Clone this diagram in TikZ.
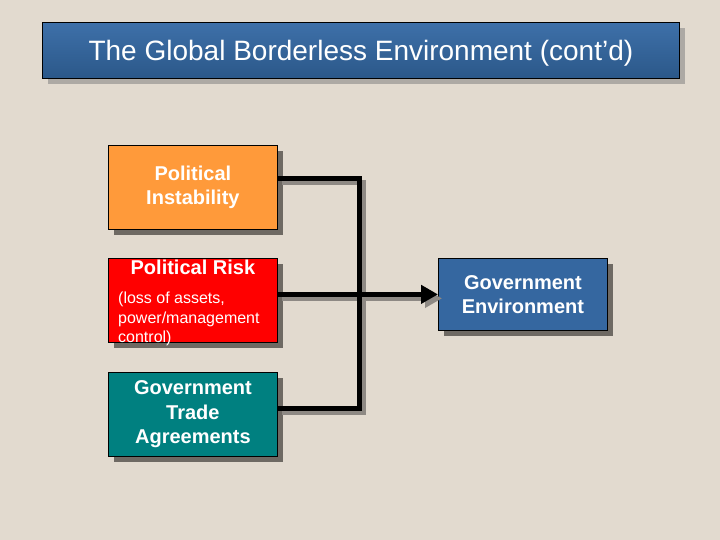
\documentclass[tikz,border=0pt]{standalone}
\usepackage{fontspec}
\setmainfont{Liberation Sans}
\usetikzlibrary{arrows.meta,shadows}

\definecolor{paper}{HTML}{E2DACF}
\definecolor{titletop}{HTML}{3E70A9}
\definecolor{titlebot}{HTML}{2B5889}
\definecolor{titleshade}{HTML}{ADA9A4}
\definecolor{boxshade}{HTML}{6E6963}
\definecolor{wireshade}{HTML}{8E8984}
\definecolor{instorange}{HTML}{FF9A3A}
\definecolor{riskred}{HTML}{FF0000}
\definecolor{tradeteal}{HTML}{008080}
\definecolor{govblue}{HTML}{3567A0}

\begin{document}
\begin{tikzpicture}[x=1pt,y=-1pt,
    box/.style={draw=black, line width=0.8pt, anchor=north west,
      minimum width=169pt, minimum height=84pt, inner sep=0pt,
      text=white, align=center,
      font=\fontsize{20}{24.5}\selectfont\bfseries,
      drop shadow={shadow xshift=6pt, shadow yshift=-6pt, fill=boxshade, opacity=1}},
    titlebox/.style={draw=black, line width=0.8pt, anchor=north west,
      minimum width=637pt, minimum height=56pt, inner sep=0pt, text depth=0pt,
      top color=titletop, bottom color=titlebot, text=white,
      font=\fontsize{28}{34}\selectfont,
      drop shadow={shadow xshift=6pt, shadow yshift=-6pt, fill=titleshade, opacity=1}},
    headtext/.style={anchor=base, inner sep=0pt, text=white,
      font=\fontsize{20}{24.5}\selectfont\bfseries},
    notetext/.style={anchor=north west, inner sep=0pt, text=white, align=left,
      font=\fontsize{16}{19.5}\selectfont},
    wire/.style={line width=5pt, draw=black},
    wireshadow/.style={line width=5pt, draw=wireshade,
      transform canvas={xshift=4pt, yshift=-4pt}}]

  % background
  \fill[paper] (0,0) rectangle (720,540);

  % title
  \node[titlebox] (title) at (42,22) {The Global Borderless Environment (cont’d)};

  % factors
  \node[box, fill=instorange] (pi) at (108,145) {Political\\Instability};
  \node[box, fill=riskred] (pr) at (108,258) {};
  \node[headtext] (prhead) at ([yshift=-16pt]pr.north) {Political Risk};
  \node[notetext] (prnote) at ([xshift=10pt,yshift=-34pt]pr.north west)
    {(loss of assets,\\power/management\\control)};
  \node[box, fill=tradeteal] (gta) at (108,372) {Government\\Trade\\Agreements};

  % result
  \node[box, fill=govblue, minimum height=72pt] (ge) at (438,258) {Government\\Environment};

  % bus
  \coordinate (bustop) at (359,179);
  \coordinate (busbot) at (359,408);

  \draw[wireshadow] (pi.east |- bustop) -- (bustop) -- (busbot) -- (gta.east |- busbot);
  \draw[wireshadow, -{Triangle[length=17pt,width=18pt]}] (pr.east |- ge.west) -- (ge.west);

  \draw[wire] (pi.east |- bustop) -- (bustop) -- (busbot) -- (gta.east |- busbot);
  \draw[wire, -{Triangle[length=17pt,width=18pt]}] (pr.east |- ge.west) -- (ge.west);

\end{tikzpicture}
\end{document}
